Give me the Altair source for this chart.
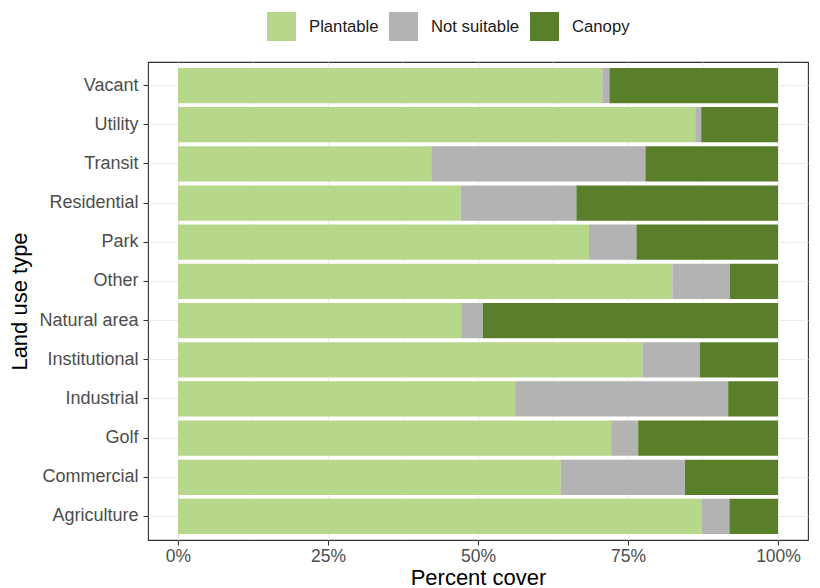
import altair as alt
import pandas as pd

land_use = ["Agriculture", "Commercial", "Golf", "Industrial", "Institutional",
            "Natural area", "Other", "Park", "Residential", "Transit", "Utility", "Vacant"]
plantable = [87.3, 63.8, 72.2, 56.2, 77.4, 47.2, 82.4, 68.5, 47.1, 42.2, 86.2, 70.7]
not_suitable = [4.6, 20.7, 4.5, 35.5, 9.6, 3.6, 9.6, 7.9, 19.3, 35.7, 1.0, 1.2]
canopy = [8.1, 15.5, 23.3, 8.3, 13.0, 49.2, 8.0, 23.6, 33.6, 22.1, 12.8, 28.1]

cover_types = ["Plantable", "Not suitable", "Canopy"]
cover_colors = ["#B7D78A", "#B3B3B3", "#5A7F2A"]
x_ticks = [0, 0.25, 0.5, 0.75, 1.0]
x_minor = [0.125, 0.375, 0.625, 0.875]

rows = []
for i, lu in enumerate(land_use):
    for k, (name, vals) in enumerate(zip(cover_types, [plantable, not_suitable, canopy])):
        rows.append({"land_use": lu, "cover": name, "value": vals[i] / 100.0, "order": k})
df = pd.DataFrame(rows)
minor_df = pd.DataFrame({"x": x_minor})

y_order = list(reversed(land_use))
xscale = alt.Scale(domain=[-0.05, 1.05], nice=False, zero=False)

minor = alt.Chart(minor_df).mark_rule(color="#EBEBEB", strokeWidth=0.6).encode(
    x=alt.X("x:Q", scale=xscale)
)

bars = alt.Chart(df).mark_bar().encode(
    y=alt.Y("land_use:N", sort=y_order,
            scale=alt.Scale(paddingInner=0.1, paddingOuter=0.15),
            axis=alt.Axis(title="Land use type", bandPosition=0.5, grid=True,
                          gridColor="#EBEBEB", gridWidth=1.1,
                          titleX=-122, titleBaseline="alphabetic",
                          labelFontSize=18, labelPadding=5)),
    x=alt.X("value:Q", stack=True, scale=xscale,
            axis=alt.Axis(title="Percent cover", values=x_ticks, format=".0%",
                          grid=True, gridColor="#EBEBEB", gridWidth=1.1,
                          labelFontSize=17.5,
                          labelBaseline="alphabetic", labelPadding=16,
                          titleBaseline="alphabetic", titleY=44)),
    color=alt.Color("cover:N",
                    scale=alt.Scale(domain=cover_types, range=cover_colors),
                    legend=alt.Legend(title=None, orient="none", direction="horizontal",
                                      legendX=119, legendY=-50,
                                      symbolType="square", symbolSize=841,
                                      symbolStrokeWidth=0, symbolOpacity=1,
                                      labelFontSize=16.7, labelColor="#1A1A1A",
                                      labelOffset=13, columnPadding=10, padding=0)),
    order=alt.Order("order:Q"),
)

chart = alt.layer(minor, bars).properties(
    width=660, height=478,
    autosize=alt.AutoSizeParams(type="none"),
    padding={"left": 140, "top": 54, "right": 4, "bottom": 48},
).configure(
    font="Liberation Sans"
).configure_view(
    stroke="#333333", strokeWidth=1.1
).configure_axis(
    domain=False, tickColor="#333333", tickSize=5, tickWidth=1.1,
    labelColor="#4D4D4D", labelFont="Liberation Sans",
    titleFontSize=22, titleFontWeight="normal", titleColor="#000000",
    titleFont="Liberation Sans"
).configure_legend(
    labelFont="Liberation Sans"
)

chart.save("out.html", embed_options={"renderer": "svg", "actions": False})
